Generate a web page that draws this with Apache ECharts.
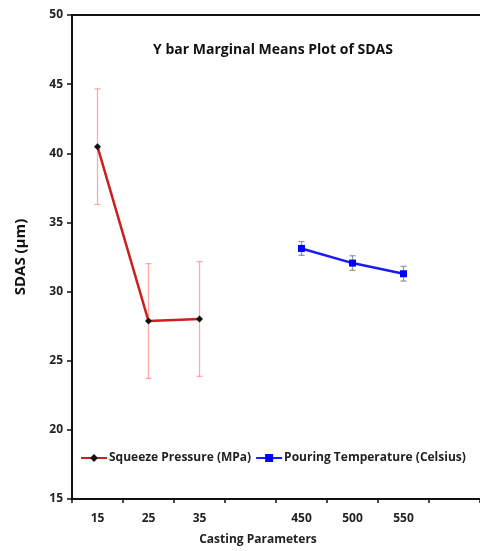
<!DOCTYPE html>
<html><head><meta charset="utf-8">
<script src="https://cdn.jsdelivr.net/npm/echarts@6/dist/echarts.min.js"></script>
<style>html,body{margin:0;padding:0;background:#fff}#c{width:480px;height:551px}</style>
</head><body><div id="c"></div>
<script>
const categories = ['15', '25', '35', '', '450', '500', '550', ''];
const pressureMeans = [40.48, 27.87, 28.02, null, null, null, null, null];
const pressureErr = [4.18, 4.15, 4.15, null, null, null, null, null];
const tempMeans = [null, null, null, null, 33.12, 32.06, 31.29, null];
const tempErr = [null, null, null, null, 0.5, 0.53, 0.53, null];
const yTicks = { min: 15, max: 50, interval: 5 };

const FONT = '"Open Sans", "Noto Sans", sans-serif';

function errData(means, errs) {
  const out = [];
  means.forEach((m, i) => { if (m != null) out.push([i, m - errs[i], m + errs[i]]); });
  return out;
}
function errRender(color) {
  return function (params, api) {
    const x = api.value(0);
    const lo = api.coord([x, api.value(1)]);
    const hi = api.coord([x, api.value(2)]);
    const w = 3;
    const style = { stroke: color, lineWidth: 1.3 };
    return { type: 'group', children: [
      { type: 'line', shape: { x1: lo[0], y1: lo[1], x2: hi[0], y2: hi[1] }, style },
      { type: 'line', shape: { x1: lo[0] - w, y1: lo[1], x2: lo[0] + w, y2: lo[1] }, style },
      { type: 'line', shape: { x1: hi[0] - w, y1: hi[1], x2: hi[0] + w, y2: hi[1] }, style }
    ]};
  };
}
const chart = echarts.init(document.getElementById('c'), null, { renderer: 'canvas' });
chart.setOption({
  animation: false,
  backgroundColor: '#fff',
  textStyle: { fontFamily: FONT },
  title: {
    text: 'Y bar Marginal Means Plot of SDAS',
    left: 268, top: 38, textAlign: 'center',
    textStyle: { fontFamily: FONT, fontSize: 14, fontWeight: 'bold', color: '#111' }
  },
  legend: {
    left: 75, top: 447, itemGap: 4, itemWidth: 26, itemHeight: 10,
    textStyle: { fontFamily: FONT, fontSize: 12, fontWeight: 'bold', color: '#222', padding: [0, 0, 0, -3] },
    data: ['Squeeze Pressure (MPa)', 'Pouring Temperature (Celsius)']
  },
  grid: { left: 72, right: -5, top: 15, bottom: 51 },
  xAxis: [{
    type: 'category', data: categories, boundaryGap: true,
    name: 'Casting Parameters', nameLocation: 'middle', nameGap: 35,
    nameTextStyle: { fontFamily: FONT, fontSize: 12, fontWeight: 'bold', color: '#222', padding: [0, 0, 0, -36] },
    axisLine: { lineStyle: { color: '#111', width: 2 } },
    axisTick: { show: true, length: 4, lineStyle: { color: '#111', width: 1.5 } },
    axisLabel: { fontFamily: FONT, fontSize: 12, fontWeight: 'bold', color: '#222', margin: 14, interval: 0 },
    splitLine: { show: false }
  }, {
    type: 'category', data: categories, position: 'top',
    axisLine: { lineStyle: { color: '#111', width: 2 } },
    axisTick: { show: false }, axisLabel: { show: false }, splitLine: { show: false }
  }],
  yAxis: {
    type: 'value', min: yTicks.min, max: yTicks.max, interval: yTicks.interval,
    name: 'SDAS (µm)', nameLocation: 'middle', nameGap: 44,
    nameTextStyle: { fontFamily: FONT, fontSize: 15, fontWeight: 'bold', color: '#111' },
    axisLine: { show: true, lineStyle: { color: '#111', width: 2 } },
    axisTick: { show: true, length: 5, lineStyle: { color: '#111', width: 1.5 } },
    axisLabel: { fontFamily: FONT, fontSize: 12, fontWeight: 'bold', color: '#222', margin: 9 },
    splitLine: { show: false }
  },
  series: [
    {
      type: 'custom', name: 'pErr', renderItem: errRender('rgba(255,90,90,0.5)'),
      data: errData(pressureMeans, pressureErr), encode: { x: 0, y: [1, 2] }, z: 1
    },
    {
      type: 'custom', name: 'tErr', renderItem: errRender('#999'),
      data: errData(tempMeans, tempErr), encode: { x: 0, y: [1, 2] }, z: 1
    },
    {
      type: 'line', name: 'Squeeze Pressure (MPa)', data: pressureMeans.map(v => v == null ? '-' : v),
      connectNulls: false, symbol: 'diamond', symbolSize: 7,
      lineStyle: { color: '#cc2020', width: 2.5 }, itemStyle: { color: '#111' }, z: 3
    },
    {
      type: 'line', name: 'Pouring Temperature (Celsius)', data: tempMeans.map(v => v == null ? '-' : v),
      connectNulls: false, symbol: 'rect', symbolSize: 7,
      lineStyle: { color: '#1a1aff', width: 2.5 }, itemStyle: { color: '#0000ff' }, z: 3
    }
  ]
});
</script></body></html>
